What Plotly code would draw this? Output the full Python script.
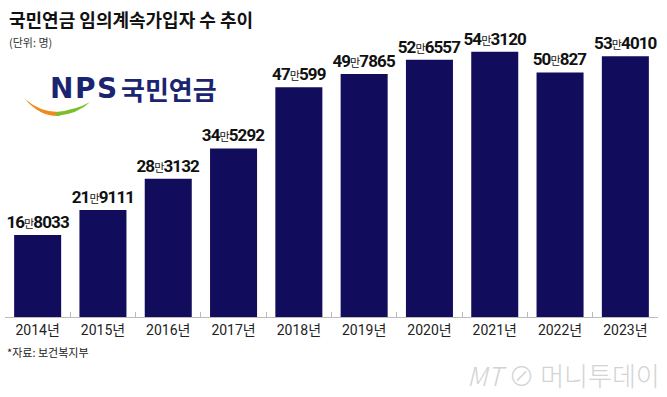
import plotly.graph_objects as go

years = ["2014년", "2015년", "2016년", "2017년", "2018년", "2019년", "2020년", "2021년", "2022년", "2023년"]
values = [168033, 219111, 283132, 345292, 470599, 497865, 526557, 543120, 500827, 534010]

def fmt(v):
    man = v // 10000
    rest = v % 10000
    return (f"<span style='letter-spacing:-0.9px'>{man}"
            f"<span style='font-size:11px;font-weight:normal'>만</span>{rest}</span>")

labels = [fmt(v) for v in values]

W, H = 667, 397
L, R, T, B = 5, 9, 24, 80
PW, PH = W - L - R, H - T - B

def px(x):
    return (x - L) / PW

def py(y):
    return (H - B - y) / PH

NUMFONT = "Roboto, Noto Sans CJK KR, sans-serif"
KFONT = "Noto Sans CJK KR, sans-serif"

fig = go.Figure(go.Bar(
    x=years, y=values,
    marker=dict(color="#120c5c", line=dict(width=0)),
    text=labels, textposition="outside", cliponaxis=False, constraintext="none",
    textfont=dict(family=NUMFONT, size=17, color="#111111", weight="bold"),
))

fig.update_layout(
    width=W, height=H,
    margin=dict(l=L, r=R, t=T, b=B, autoexpand=False),
    paper_bgcolor="white", plot_bgcolor="white",
    bargap=0.28, showlegend=False,
    xaxis=dict(
        showline=True, linecolor="#bbbbbb", linewidth=1, automargin=False,
        ticks="inside", ticklen=5, tickcolor="#bbbbbb", tickson="boundaries",
        tickfont=dict(family=NUMFONT, size=14, color="#222222"),
        showgrid=False, fixedrange=True,
    ),
    yaxis=dict(range=[0, 600000], visible=False, showgrid=False, fixedrange=True, automargin=False),
)

annots = [
    dict(text="<b>국민연금 임의계속가입자 수 추이</b>", x=px(7), y=py(19), xanchor="left", yanchor="middle",
         font=dict(family=KFONT, size=18, color="#111111")),
    dict(text="(단위: 명)", x=px(7), y=py(42), xanchor="left", yanchor="middle",
         font=dict(family=KFONT, size=11, color="#333333")),
    dict(text="<b>N</b>", x=px(61), y=py(89), xanchor="center", yanchor="middle",
         font=dict(family="DejaVu Sans, sans-serif", size=28, color="#1b2470")),
    dict(text="<b>P</b>", x=px(85), y=py(89), xanchor="center", yanchor="middle",
         font=dict(family="DejaVu Sans, sans-serif", size=28, color="#1b2470")),
    dict(text="<b>S</b>", x=px(107), y=py(89), xanchor="center", yanchor="middle",
         font=dict(family="DejaVu Sans, sans-serif", size=28, color="#1b2470")),
    dict(text="<b>국민연금</b>", x=px(119), y=py(89), xanchor="left", yanchor="middle",
         font=dict(family=KFONT, size=26, color="#1b2470")),
    dict(text="*자료: 보건복지부", x=px(5), y=py(352), xanchor="left", yanchor="middle",
         font=dict(family=KFONT, size=11, color="#222222")),
    dict(text="<i>MT</i> ⊘ 머니투데이", x=px(662), y=py(374), xanchor="right", yanchor="middle",
         font=dict(family=KFONT, size=26, color="#d3d3d3", weight=300)),
]
for a in annots:
    a.update(xref="paper", yref="paper", showarrow=False)
fig.update_layout(annotations=annots)

def pt(x, y):
    return f"{px(x):.4f},{py(y):.4f}"

orange = f"M {pt(25,99)} Q {pt(40,117)} {pt(60,116)} L {pt(58,112)} Q {pt(40,112)} {pt(25,99)} Z"
green = f"M {pt(56,116)} Q {pt(78,114)} {pt(90,102)} Q {pt(76,110)} {pt(56,112)} Z"
fig.add_shape(type="path", path=orange, xref="paper", yref="paper", fillcolor="#f08a1c", line=dict(width=0))
fig.add_shape(type="path", path=green, xref="paper", yref="paper", fillcolor="#7cbf2a", line=dict(width=0))

fig.write_html("out.html", config={"displayModeBar": False},
               post_script="document.body.style.margin='0';document.body.style.overflow='hidden';")
